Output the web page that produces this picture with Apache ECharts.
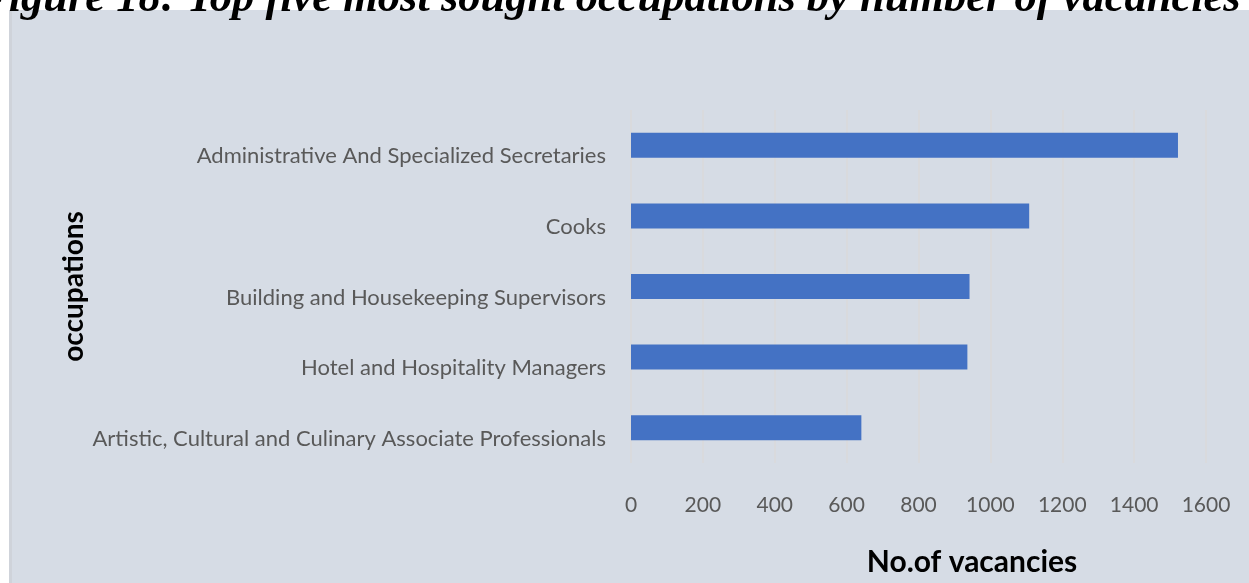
<!DOCTYPE html>
<html>
<head>
<meta charset="utf-8">
<script src="https://cdn.jsdelivr.net/npm/echarts@6/dist/echarts.min.js"></script>
<style>
html, body { margin: 0; padding: 0; background: #ffffff; }
#chart { width: 1249px; height: 583px; }
</style>
</head>
<body>
<div id="chart"></div>
<script>
// Data (top to bottom as shown)
var occupations = [
  'Administrative And Specialized Secretaries',
  'Cooks',
  'Building and Housekeeping Supervisors',
  'Hotel and Hospitality Managers',
  'Artistic, Cultural and Culinary Associate Professionals'
];
var vacancies = [1522, 1108, 942, 936, 641];
var titleText = 'Figure 18: Top five most sought occupations by number of vacancies';
var xAxisName = 'No.of vacancies';
var yAxisName = 'occupations';

var chart = echarts.init(document.getElementById('chart'), null, { renderer: 'canvas' });
chart.setOption({
  backgroundColor: '#ffffff',
  animation: false,
  graphic: [{
    type: 'rect',
    z: -10,
    silent: true,
    shape: { x: 9, y: 10, width: 1240, height: 573 },
    style: { fill: '#D6DCE5' }
  }, {
    type: 'rect',
    z: -9,
    silent: true,
    shape: { x: 9, y: 10, width: 3, height: 573 },
    style: { fill: '#CFD3DA' }
  }],
  title: {
    text: titleText,
    left: -26,
    top: -28,
    z: 20,
    textStyle: {
      fontFamily: 'Liberation Serif',
      fontStyle: 'italic',
      fontWeight: 'bold',
      fontSize: 44.5,
      color: '#000000'
    }
  },
  grid: { left: 631, right: 43, top: 110, bottom: 120, containLabel: false },
  xAxis: {
    type: 'value',
    min: 0,
    max: 1600,
    interval: 200,
    name: xAxisName,
    nameLocation: 'middle',
    nameGap: 84,
    nameTextStyle: {
      fontFamily: 'Lato',
      fontWeight: 'bold',
      fontSize: 30,
      color: '#000000',
      padding: [0, 0, 0, 107]
    },
    axisLine: { show: false },
    axisTick: { show: false },
    axisLabel: {
      fontFamily: 'Lato',
      fontSize: 21,
      color: '#595959',
      margin: 32,
      formatter: function (v) { return String(v); }
    },
    splitLine: { show: true, lineStyle: { color: '#DADADA', width: 1.5 } }
  },
  yAxis: {
    type: 'category',
    inverse: true,
    data: occupations,
    name: yAxisName,
    nameLocation: 'middle',
    nameGap: 543,
    nameRotate: 90,
    nameTextStyle: {
      fontFamily: 'Lato',
      fontWeight: 'bold',
      fontSize: 28,
      color: '#000000'
    },
    axisLine: { show: false },
    axisTick: { show: false },
    axisLabel: {
      fontFamily: 'Lato',
      fontSize: 22,
      color: '#595959',
      margin: 25,
      verticalAlign: 'top',
      lineHeight: 22
    },
    splitLine: { show: false }
  },
  series: [{
    type: 'bar',
    data: vacancies,
    barWidth: 25,
    itemStyle: { color: '#4472C4' }
  }]
});
</script>
</body>
</html>
